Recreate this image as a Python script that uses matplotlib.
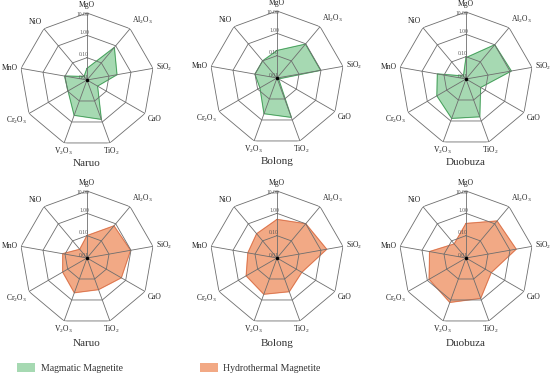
import numpy as np
import matplotlib
matplotlib.use("Agg")
import matplotlib.pyplot as plt
from matplotlib.patches import Patch

plt.rcParams['font.family'] = ['Liberation Serif', 'DejaVu Serif']
plt.rcParams['mathtext.default'] = 'regular'

# oxides around the radar, clockwise from the top
oxides = ['MgO', 'Al$_2$O$_3$', 'SiO$_2$', 'CaO', 'TiO$_2$',
          'V$_2$O$_3$', 'Cr$_2$O$_3$', 'MnO', 'NiO']
sites = ['Naruo', 'Bolong', 'Duobuza']
ring_values = [0.01, 0.1, 1.0, 10.0]
ring_labels = ['0.01', '0.10', '1.00', '10.00']

# magmatic magnetite (top row)
naruo_mag = [0.033, 0.80, 0.23, 0.035, 0.75, 0.48, 0.095, 0.105, 0.016]
bolong_mag = [0.17, 0.95, 0.95, 0.012, 0.75, 0.50, 0.076, 0.10, 0.10]
duobuza_mag = [0.09, 1.0, 1.15, 0.057, 0.63, 0.75, 0.32, 0.20, 0.015]

# hydrothermal magnetite (bottom row)
naruo_hyd = [0.10, 0.75, 0.95, 0.59, 0.32, 0.45, 0.18, 0.126, 0.032]
bolong_hyd = [0.53, 1.0, 1.8, 0.19, 0.40, 0.53, 0.39, 0.21, 0.26]
duobuza_hyd = [0.35, 1.45, 1.9, 0.20, 0.83, 1.3, 0.80, 0.45, 0.066]

mag_fill, mag_edge = '#a6d9b2', '#3f9a55'
hyd_fill, hyd_edge = '#f2a985', '#d9704a'
grid_col = '#6e6e6e'

W, H = 550, 378
fig = plt.figure(figsize=(5.5, 3.78), dpi=100)

theta = np.arange(len(oxides)) * 2 * np.pi / len(oxides)
theta_c = np.append(theta, theta[0])

def radar(cx, cy, values, fill, edge, title, title_off):
    R = 67
    ax = fig.add_axes([(cx - R) / W, (H - cy - R) / H, 2 * R / W, 2 * R / H],
                      projection='polar')
    ax.set_theta_zero_location('N')
    ax.set_theta_direction(-1)
    ax.set_rscale('log')
    ax.set_rlim(0.01, 10)
    ax.set_axis_off()

    # filled polygon
    v = np.append(values, values[0])
    ax.fill(theta_c, v, color=fill, zorder=1)
    ax.plot(theta_c, v, color=edge, lw=0.6, zorder=2)

    # nonagon rings and spokes
    for rv in ring_values[1:]:
        ax.plot(theta_c, [rv] * len(theta_c), color=grid_col, lw=0.6, zorder=3)
    for t in theta:
        ax.plot([t, t], [0.01, 10], color=grid_col, lw=0.6, zorder=3)
    ax.plot([0], [0.01], 'o', color='k', ms=1.5, zorder=4)

    for rv, lab in zip(ring_values, ring_labels):
        if rv == 10.0:
            off, va = (1.8, -1.0), 'center'
        else:
            off, va = (1.5, 0.3), 'bottom'
        ax.annotate(lab, xy=(0, rv), xytext=off, textcoords='offset points',
                    ha='right', va=va, fontsize=4, color='#555555',
                    annotation_clip=False, zorder=5)

    for t, lab in zip(theta, oxides):
        s, c = np.sin(t), np.cos(t)
        ha = 'left' if s > 0.5 else ('right' if s < -0.5 else 'center')
        va = 'bottom' if c > 0.25 else ('top' if c < -0.25 else 'center')
        d = 3.2 if t == 0 else 2.2
        ax.annotate(lab, xy=(t, 10), xytext=(d * s, d * c),
                    textcoords='offset points', ha=ha, va=va, fontsize=5.5,
                    color='#222222', annotation_clip=False)

    ax.text(0.5, title_off, title, transform=ax.transAxes, ha='center',
            va='center', fontsize=8, color='#333333')
    return ax

top = [(87, 80), (277, 78), (466, 79)]
bottom = [(87, 258), (277, 258), (466, 258)]
mags = [naruo_mag, bolong_mag, duobuza_mag]
hyds = [naruo_hyd, bolong_hyd, duobuza_hyd]

for (cx, cy), vals, name in zip(top, mags, sites):
    radar(cx, cy, vals, mag_fill, mag_edge, name, -0.12)
for (cx, cy), vals, name in zip(bottom, hyds, sites):
    radar(cx, cy, vals, hyd_fill, hyd_edge, name, -0.135)

handles = [Patch(facecolor=mag_fill, edgecolor='none'),
           Patch(facecolor=hyd_fill, edgecolor='none')]
fig.legend(handles, ['Magmatic Magnetite', 'Hydrothermal Magnetite'],
           loc='center left', bbox_to_anchor=(0.015, 1 - 368 / H), ncol=2,
           frameon=False, fontsize=7, handlelength=1.85, handleheight=1.1,
           handletextpad=0.6, columnspacing=7.9, labelcolor='#333333')

fig.savefig('out.png', dpi=100)
